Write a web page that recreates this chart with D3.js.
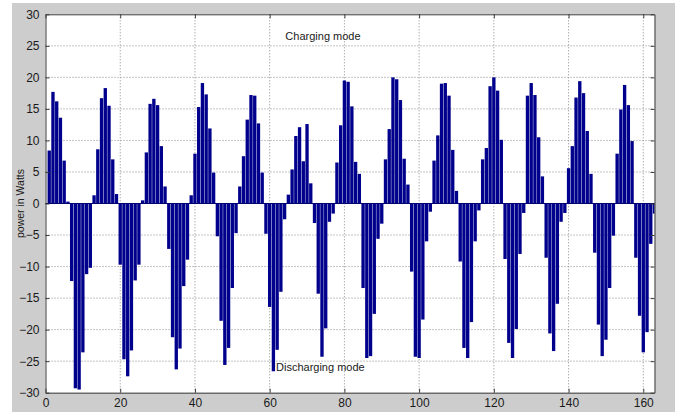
<!DOCTYPE html>
<html>
<head>
<meta charset="utf-8">
<script src="https://cdn.jsdelivr.net/npm/d3@7"></script>
<style>
  body { margin: 0; background: #ffffff; }
  text { font-family: Arial, "Liberation Sans", sans-serif; fill: #1a1a1a; }
</style>
</head>
<body>
<div id="visArea"></div>
<script>

// sample index (1..163) and power per sample
var samples = d3.range(1, 164);
var power = [
  8.4, 17.7, 16.2, 13.6, 6.8, 0.3, -12.3, -29.3, -29.5, -23.6,
  -11.2, -10.2, 1.3, 8.6, 16.7, 18.3, 15.5, 7.0, 1.5, -9.7,
  -24.7, -27.4, -23.3, -12.2, -9.7, 0.5, 8.1, 15.8, 16.6, 15.6,
  9.1, 2.7, -7.2, -21.2, -26.3, -23.0, -13.1, -8.9, 1.3, 7.9,
  15.3, 19.1, 17.3, 11.9, 4.9, -5.2, -18.6, -25.6, -22.9, -13.4,
  -4.7, 2.7, 7.5, 13.3, 17.2, 17.1, 12.7, 4.9, -4.8, -16.4,
  -26.6, -23.2, -14.0, -2.5, 1.4, 5.4, 10.7, 12.1, 6.7, 12.6,
  3.2, -3.1, -14.3, -24.3, -19.8, -2.9, -1.6, 6.5, 12.4, 19.5,
  19.3, 15.4, 6.6, 4.7, -13.4, -24.5, -24.2, -17.5, -5.6, -3.2,
  7.0, 11.8, 20.0, 19.7, 16.4, 7.1, 3.0, -10.8, -24.3, -24.5,
  -18.4, -6.0, -1.3, 6.8, 10.8, 19.0, 19.1, 17.1, 8.5, 2.0,
  -9.2, -22.9, -24.5, -18.8, -6.0, -1.1, 7.0, 8.8, 18.6, 20.0,
  17.9, 10.1, -8.8, -22.1, -24.5, -19.9, -8.0, -1.5, 17.1, 19.1,
  17.2, 10.5, 4.3, -8.6, -20.6, -23.4, -15.9, -2.9, -1.5, 5.6,
  9.1, 16.8, 19.4, 17.5, 11.5, 4.7, -7.8, -19.2, -24.2, -21.6,
  -13.4, -5.1, 7.9, 14.9, 18.8, 15.6, 9.9, -8.6, -17.8, -23.6,
  -20.4, -6.4, -1.6
];
var xTicks = [0, 20, 40, 60, 80, 100, 120, 140, 160];
var yTicks = [-30, -25, -20, -15, -10, -5, 0, 5, 10, 15, 20, 25, 30];
var notes = [
  { text: 'Charging mode', x: 64.2, y: 26.0 },
  { text: 'Discharging mode', x: 61.7, y: -26.5 }
];


function drawGraph(){
  var W = 680, H = 412;
  var left = 45.5, right = 654.5, top = 14.3, bottom = 392.7;

  var svg = d3.select('#visArea')
              .append('svg')
              .attr('width', W)
              .attr('height', H);

  // figure background (matlab grey)
  svg.append('rect')
     .attr('x', 12).attr('y', 3)
     .attr('width', 663).attr('height', H - 3)
     .attr('fill', '#cdcdcd');

  svg.append('rect')
     .attr('x', left).attr('y', top)
     .attr('width', right - left).attr('height', bottom - top)
     .attr('fill', '#ffffff');

  var x = d3.scaleLinear().domain([0, 163]).range([left, right]);
  var y = d3.scaleLinear().domain([-30, 30]).range([bottom, top]);

  svg.append('clipPath').attr('id', 'plotClip')
     .append('rect')
     .attr('x', left).attr('y', top)
     .attr('width', right - left).attr('height', bottom - top);

  // dotted grid
  var grid = svg.append('g').attr('class', 'grid');
  grid.selectAll('line.gx')
      .data(xTicks.slice(1))
      .enter()
      .append('line')
      .attr('class', 'gx')
      .attr('x1', function(d){ return x(d); })
      .attr('x2', function(d){ return x(d); })
      .attr('y1', top).attr('y2', bottom);
  grid.selectAll('line.gy')
      .data(yTicks.slice(1, -1))
      .enter()
      .append('line')
      .attr('class', 'gy')
      .attr('x1', left).attr('x2', right)
      .attr('y1', function(d){ return y(d); })
      .attr('y2', function(d){ return y(d); });
  grid.selectAll('line')
      .style('stroke', '#8a8a8a')
      .style('stroke-width', '1')
      .style('stroke-dasharray', '1,2');

  // bars, thin light seam between neighbours
  var bars = svg.append('g').attr('class', 'bars').attr('clip-path', 'url(#plotClip)');
  bars.selectAll('rect')
      .data(samples)
      .enter()
      .append('rect')
      .attr('x', function(d){ return x(d - 0.5) + 0.2; })
      .attr('width', function(d){ return x(d + 0.5) - x(d - 0.5) - 0.4; })
      .attr('y', function(d, i){ return Math.min(y(power[i]), y(0)); })
      .attr('height', function(d, i){ return Math.abs(y(power[i]) - y(0)); })
      .attr('fill', '#00008c');

  // baseline
  svg.append('line')
     .attr('x1', left).attr('x2', right)
     .attr('y1', y(0)).attr('y2', y(0))
     .style('stroke', '#000070')
     .style('stroke-width', '1');

  // axes, matlab style: ticks inside on every side
  var axB = svg.append('g').attr('transform', 'translate(0,' + bottom + ')')
               .call(d3.axisBottom(x).tickValues(xTicks).tickSizeInner(-4).tickSizeOuter(0).tickPadding(8));
  var axT = svg.append('g').attr('transform', 'translate(0,' + top + ')')
               .call(d3.axisTop(x).tickValues(xTicks).tickSizeInner(-4).tickSizeOuter(0).tickFormat(''));
  var axL = svg.append('g').attr('transform', 'translate(' + left + ',0)')
               .call(d3.axisLeft(y).tickValues(yTicks).tickSizeInner(-4).tickSizeOuter(0).tickPadding(6));
  var axR = svg.append('g').attr('transform', 'translate(' + right + ',0)')
               .call(d3.axisRight(y).tickValues(yTicks).tickSizeInner(-4).tickSizeOuter(0).tickFormat(''));

  [axB, axT, axL, axR].forEach(function(a){
    a.select('.domain').style('stroke', '#3c3c3c').style('stroke-width', '1');
    a.selectAll('.tick line').style('stroke', '#3c3c3c');
    a.selectAll('.tick text')
     .style('font-size', '12px')
     .style('font-family', 'Arial, "Liberation Sans", sans-serif')
     .style('fill', '#1a1a1a');
  });
  axB.selectAll('.tick text').attr('dy', '0.55em');

  // annotations
  svg.append('g').attr('class', 'notes')
     .selectAll('text')
     .data(notes)
     .enter()
     .append('text')
     .attr('x', function(d){ return x(d.x); })
     .attr('y', function(d){ return y(d.y); })
     .text(function(d){ return d.text; })
     .style('font-size', '11px');

  // y axis title
  svg.append('text')
     .attr('transform', 'translate(24,' + y(0) + ') rotate(-90)')
     .style('text-anchor', 'middle')
     .style('font-size', '10.5px')
     .text('power in Watts');
}

drawGraph();

</script>
</body>
</html>
